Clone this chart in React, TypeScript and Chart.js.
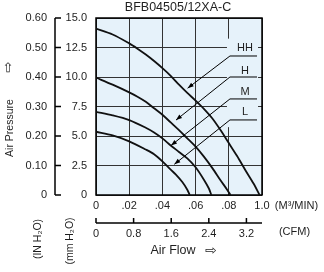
import React, { useEffect, useRef } from 'react';
import { Chart, registerables } from 'chart.js';

Chart.register(...registerables);

// ---------- data ----------
const TITLE = 'BFB04505/12XA-C';
const SERIES_NAMES = ['HH', 'H', 'M', 'L'];

const flowHH = [0, 0.01, 0.02, 0.025, 0.03, 0.035, 0.04, 0.045, 0.05, 0.055, 0.06, 0.065, 0.07, 0.075, 0.08, 0.085, 0.09, 0.095, 0.0985];
const pressHH = [14.1, 13.6, 12.85, 12.4, 11.9, 11.35, 10.75, 10.1, 9.35, 8.65, 8.0, 7.3, 6.5, 5.5, 4.4, 3.3, 2.1, 0.95, 0];

const flowH = [0, 0.01, 0.02, 0.025, 0.03, 0.035, 0.04, 0.045, 0.05, 0.055, 0.06, 0.065, 0.07, 0.075, 0.079, 0.081];
const pressH = [9.95, 9.35, 8.7, 8.33, 7.9, 7.35, 6.8, 6.15, 5.5, 4.8, 4.1, 3.25, 2.3, 1.25, 0.45, 0];

const flowM = [0, 0.01, 0.02, 0.03, 0.035, 0.04, 0.045, 0.05, 0.055, 0.06, 0.065, 0.068, 0.0695];
const pressM = [7.05, 6.75, 6.35, 5.7, 5.3, 4.8, 4.2, 3.65, 3.1, 2.35, 1.3, 0.55, 0];

const flowL = [0, 0.01, 0.02, 0.03, 0.035, 0.04, 0.045, 0.048, 0.052, 0.055, 0.0565];
const pressL = [5.36, 5.05, 4.55, 3.85, 3.45, 2.85, 2.15, 1.75, 1.1, 0.45, 0];

const X_TICKS = [0, 0.02, 0.04, 0.06, 0.08, 0.1];
const X_TICK_LABELS = ['0', '.02', '.04', '.06', '.08', '1.0'];
const MM_TICKS = [0, 2.5, 5, 7.5, 10, 12.5, 15];
const MM_TICK_LABELS = ['0', '2.5', '5.0', '7.5', '10.0', '12.5', '15.0'];
const IN_TICKS = [0, 0.1, 0.2, 0.3, 0.4, 0.5, 0.6];
const IN_TICK_LABELS = ['0', '0.10', '0.20', '0.30', '0.40', '0.50', '0.60'];
const CFM_TICKS = [0, 0.8, 1.6, 2.4, 3.2];
const CFM_TICK_LABELS = ['0', '0.8', '1.6', '2.4', '3.2'];
const CFM_PER_M3MIN = 35.3147;

// legend leader annotations (flow, pressure)
const LABEL_AT = [[0.0898, 12.46], [0.0898, 10.5], [0.0898, 8.73], [0.0898, 7.03]];
const UNDERLINE_P = [11.78, 10.0, 8.14, 6.36];
const UNDERLINE_X = [0.0807, 0.097];
const ARROW_TO = [[0.0552, 9.05], [0.0482, 6.35], [0.0452, 4.2], [0.0472, 2.6]];

// ---------- style ----------
const FONT = '"Liberation Sans", Arial, sans-serif';
const BG = '#e6f2fa';
const INK = '#1e1e1e';
const GRID = '#333333';

const decor = {
  id: 'decor',
  beforeDraw(chart: any) {
    const { ctx, chartArea: a } = chart;
    ctx.save();
    ctx.fillStyle = BG;
    ctx.fillRect(a.left, a.top, a.width, a.height);
    ctx.restore();
  },
  beforeDatasetsDraw(chart: any) {
    const { ctx, chartArea: a } = chart;
    const x = chart.scales.x;
    const y = chart.scales.y;
    ctx.save();
    // box behind legend labels
    const bx0 = x.getPixelForValue(0.0789);
    const bx1 = x.getPixelForValue(0.0976);
    const by0 = y.getPixelForValue(13.25);
    const by1 = y.getPixelForValue(5.75);
    ctx.fillStyle = BG;
    ctx.fillRect(bx0, by0, bx1 - bx0, by1 - by0);
    // frame
    ctx.strokeStyle = '#000';
    ctx.lineWidth = 1.5;
    ctx.strokeRect(a.left, a.top, a.width, a.height);
    ctx.restore();
  },
  afterDatasetsDraw(chart: any) {
    const { ctx, chartArea: a } = chart;
    const x = chart.scales.x;
    const y = chart.scales.y;
    const x2 = chart.scales.x2;
    const y2 = chart.scales.y2;
    ctx.save();
    // leaders
    ctx.strokeStyle = '#000';
    ctx.fillStyle = '#000';
    ctx.lineWidth = 1;
    SERIES_NAMES.forEach((name, i) => {
      const ux0 = x.getPixelForValue(UNDERLINE_X[0]);
      const ux1 = x.getPixelForValue(UNDERLINE_X[1]);
      const uy = y.getPixelForValue(UNDERLINE_P[i]);
      const tx = x.getPixelForValue(ARROW_TO[i][0]);
      const ty = y.getPixelForValue(ARROW_TO[i][1]);
      ctx.beginPath();
      ctx.moveTo(ux1, uy);
      ctx.lineTo(ux0, uy);
      ctx.lineTo(tx, ty);
      ctx.stroke();
      const dx = tx - ux0, dy = ty - uy;
      const len = Math.hypot(dx, dy);
      const ex = dx / len, ey = dy / len;
      const L = 6, W = 2.2;
      ctx.beginPath();
      ctx.moveTo(tx, ty);
      ctx.lineTo(tx - ex * L - ey * W, ty - ey * L + ex * W);
      ctx.lineTo(tx - ex * L + ey * W, ty - ey * L - ex * W);
      ctx.closePath();
      ctx.fill();
      ctx.fillStyle = INK;
      ctx.font = `11px ${FONT}`;
      ctx.textAlign = 'center';
      ctx.textBaseline = 'middle';
      ctx.fillText(name, x.getPixelForValue(LABEL_AT[i][0]), y.getPixelForValue(LABEL_AT[i][1]));
      ctx.fillStyle = '#000';
    });

    // bracket for mm axis
    const bxl = y2.right;
    ctx.lineWidth = 1.5;
    ctx.beginPath();
    ctx.moveTo(bxl, y.getPixelForValue(15));
    ctx.lineTo(bxl, y.getPixelForValue(0));
    ctx.stroke();
    ctx.beginPath();
    MM_TICKS.forEach((v) => {
      const py = y.getPixelForValue(v);
      ctx.moveTo(bxl, py);
      ctx.lineTo(bxl + 6, py);
    });
    ctx.stroke();

    // CFM axis line
    const cy = x2.top + 6;
    ctx.beginPath();
    ctx.moveTo(x2.left, cy);
    ctx.lineTo(x2.right, cy);
    ctx.stroke();
    ctx.beginPath();
    CFM_TICKS.forEach((v) => {
      const px = x2.getPixelForValue(v);
      ctx.moveTo(px, cy);
      ctx.lineTo(px, cy - 5);
    });
    ctx.stroke();

    // texts
    ctx.fillStyle = INK;
    ctx.textAlign = 'center';
    ctx.textBaseline = 'middle';
    ctx.font = `12.5px ${FONT}`;
    ctx.fillText(TITLE, (a.left + a.right) / 2 - 1, 8);
    ctx.fillText('Air Flow', 173, 251);
    ctx.font = `14px "DejaVu Sans", ${FONT}`;
    ctx.fillText('\u21E8', 211, 251);
    ctx.font = `11px ${FONT}`;
    ctx.fillText('(M\u00B3/MIN)', 296.5, 206);
    ctx.fillText('(CFM)', 294.5, 232);

    const vtext = (t: string, cx: number, cyy: number, font: string) => {
      ctx.save();
      ctx.translate(cx, cyy);
      ctx.rotate(-Math.PI / 2);
      ctx.font = font;
      ctx.fillText(t, 0, 0);
      ctx.restore();
    };
    vtext('Air Pressure', 10, 128, `10.5px ${FONT}`);
    vtext('\u21E8', 9, 67, `13px "DejaVu Sans", ${FONT}`);
    vtext('(IN H\u2082O)', 38, 239, `10.5px ${FONT}`);
    vtext('(mm H\u2082O)', 70, 241, `10.5px ${FONT}`);
    ctx.restore();
  },
};

function setTicks(values: number[]) {
  return (s: any) => {
    s.ticks = values.map((v) => ({ value: v }));
  };
}

export default function App() {
  const ref = useRef<HTMLCanvasElement>(null);
  useEffect(() => {
    if (!ref.current) return;
    const mk = (name: string, fl: number[], pr: number[]) => ({
      label: name,
      data: fl.map((f, i) => ({ x: f, y: pr[i] })),
      borderColor: '#111',
      borderWidth: 1.8,
      pointRadius: 0,
      tension: 0.3,
      fill: false,
      xAxisID: 'x',
      yAxisID: 'y',
    });
    const tickFont = { family: FONT, size: 11 };
    const chart = new Chart(ref.current, {
      type: 'line',
      data: {
        datasets: [
          mk('HH', flowHH, pressHH),
          mk('H', flowH, pressH),
          mk('M', flowM, pressM),
          mk('L', flowL, pressL),
        ],
      },
      options: {
        responsive: false,
        animation: false,
        devicePixelRatio: 1,
        layout: { padding: { top: 18, right: 62, left: 0, bottom: 0 } },
        plugins: { legend: { display: false }, tooltip: { enabled: false }, title: { display: false } },
        scales: {
          x: {
            type: 'linear', position: 'bottom', weight: 0, min: 0, max: 0.1,
            afterBuildTicks: setTicks(X_TICKS),
            ticks: { callback: (_v: any, i: number) => X_TICK_LABELS[i], font: tickFont, color: INK, padding: 4, maxRotation: 0, autoSkip: false },
            grid: { color: GRID, lineWidth: 1, drawTicks: false },
            border: { display: false },
            afterFit: (s: any) => { s.height = 22; },
          },
          x2: {
            type: 'linear', position: 'bottom', weight: 1, min: 0, max: 0.1 * CFM_PER_M3MIN,
            afterBuildTicks: setTicks(CFM_TICKS),
            ticks: { callback: (_v: any, i: number) => CFM_TICK_LABELS[i], font: tickFont, color: INK, padding: 10, maxRotation: 0, autoSkip: false },
            grid: { display: false, drawTicks: false },
            border: { display: false },
            afterFit: (s: any) => { s.height = 55; },
          },
          y: {
            type: 'linear', position: 'left', weight: 0, min: 0, max: 15,
            afterBuildTicks: setTicks(MM_TICKS),
            ticks: { callback: (_v: any, i: number) => MM_TICK_LABELS[i], font: tickFont, color: INK, padding: 9, autoSkip: false },
            grid: { color: GRID, lineWidth: 1, drawTicks: false },
            border: { display: false },
            afterFit: (s: any) => { s.width = 41; },
          },
          y2: {
            type: 'linear', position: 'left', weight: 1, min: 0, max: 0.6,
            afterBuildTicks: setTicks(IN_TICKS),
            ticks: { callback: (_v: any, i: number) => IN_TICK_LABELS[i], font: tickFont, color: INK, padding: 8, autoSkip: false },
            grid: { display: false, drawTicks: false },
            border: { display: false },
            afterFit: (s: any) => { s.width = 55; },
          },
        },
      },
      plugins: [decor],
    } as any);
    return () => chart.destroy();
  }, []);
  return (
    <div style={{ position: 'absolute', left: 0, top: 0, width: 324, height: 272, background: '#fff' }}>
      <canvas ref={ref} width={324} height={272} style={{ display: 'block' }} />
    </div>
  );
}
